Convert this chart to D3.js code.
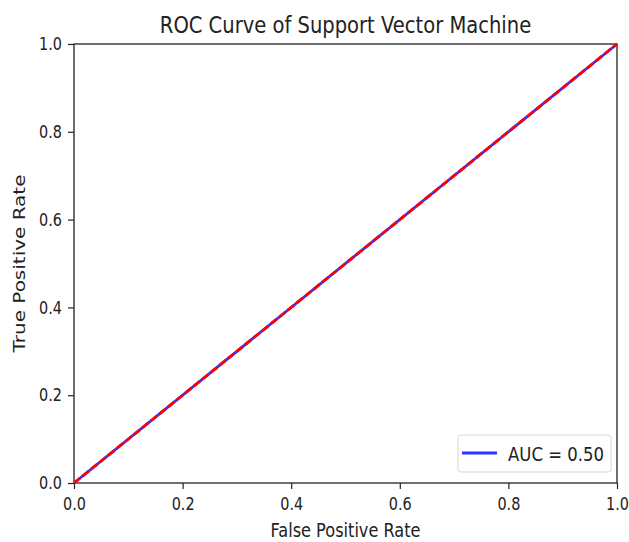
<!DOCTYPE html>
<html>
  <head>
    <script src="https://cdnjs.cloudflare.com/ajax/libs/d3/7.8.5/d3.min.js"></script>
    <style>
      body { margin: 0; background: #fff; }
      text { font-family: "DejaVu Sans", sans-serif; fill: #222; }
      .axis path, .axis line { stroke: #222; stroke-width: 1.2; }
    </style>
  </head>
  <body>
    <svg width="629" height="542"></svg>
    <script>
      // roc data
      var fpr = [0, 1];
      var tpr = [0, 1];
      var chanceX = [0, 1];
      var chanceY = [0, 1];
      var ticks = [0, 0.2, 0.4, 0.6, 0.8, 1.0];
      var aucLabel = "AUC = 0.50";
      var title = "ROC Curve of Support Vector Machine";

      var svg = d3.select("svg");
      var m = { left: 74, right: 617, top: 44, bottom: 483 };

      var x = d3.scaleLinear().domain([0, 1]).range([m.left, m.right]);
      var y = d3.scaleLinear().domain([0, 1]).range([m.bottom, m.top]);

      // text in the picture looks squeezed sideways
      function squeeze(sel, sx) {
        sel.each(function () {
          var t = d3.select(this);
          var xx = +t.attr("x") || 0;
          t.attr("transform", (t.attr("transform") || "") + " translate(" + xx + ",0) scale(" + sx + ",1) translate(" + -xx + ",0)");
        });
      }

      var xAxis = svg.append("g").attr("class", "axis")
        .attr("transform", "translate(0," + m.bottom + ")")
        .call(d3.axisBottom(x).tickValues(ticks).tickFormat(d3.format(".1f")).tickSize(6).tickPadding(5).tickSizeOuter(0));
      xAxis.selectAll("text").attr("font-size", 18).style("font-family", "DejaVu Sans").attr("dy", "0.9em").call(squeeze, 0.8);

      var yAxis = svg.append("g").attr("class", "axis")
        .attr("transform", "translate(" + m.left + ",0)")
        .call(d3.axisLeft(y).tickValues(ticks).tickFormat(d3.format(".1f")).tickSize(6).tickPadding(6).tickSizeOuter(0));
      yAxis.selectAll("text").attr("font-size", 18).style("font-family", "DejaVu Sans").call(squeeze, 0.8);
      yAxis.select(".domain").remove();
      xAxis.select(".domain").remove();

      // frame
      svg.append("rect")
        .attr("x", x(0)).attr("y", y(1))
        .attr("width", x(1) - x(0)).attr("height", y(0) - y(1))
        .attr("fill", "none").attr("stroke", "#222").attr("stroke-width", 1.3);

      var line = d3.line().x(d => x(d[0])).y(d => y(d[1]));

      svg.append("path")
        .attr("d", line(d3.zip(fpr, tpr)))
        .attr("fill", "none").attr("stroke", "#3333ff").attr("stroke-width", 2.8);

      svg.append("path")
        .attr("d", line(d3.zip(chanceX, chanceY)))
        .attr("fill", "none").attr("stroke", "#ff0000").attr("stroke-width", 2.8)
        .attr("stroke-dasharray", "8,3");

      svg.append("text")
        .attr("x", (m.left + m.right) / 2).attr("y", 33)
        .attr("text-anchor", "middle").attr("font-size", 23)
        .text(title).call(squeeze, 0.85);

      svg.append("text")
        .attr("x", (m.left + m.right) / 2).attr("y", 537)
        .attr("text-anchor", "middle").attr("font-size", 19)
        .text("False Positive Rate").call(squeeze, 0.85);

      svg.append("text")
        .attr("transform", "translate(25," + (m.top + m.bottom) / 2 + ") scale(0.82,1) rotate(-90)")
        .attr("text-anchor", "middle").attr("font-size", 20)
        .text("True Positive Rate");

      // legend
      var lg = svg.append("g");
      lg.append("rect")
        .attr("x", 458).attr("y", 435).attr("width", 153).attr("height", 37)
        .attr("rx", 3).attr("fill", "#fff").attr("stroke", "#d6d6d6");
      lg.append("line")
        .attr("x1", 462).attr("x2", 497).attr("y1", 453).attr("y2", 453)
        .attr("stroke", "#3333ff").attr("stroke-width", 3);
      lg.append("text")
        .attr("x", 508).attr("y", 461).attr("font-size", 19)
        .text(aucLabel).call(squeeze, 0.87);
    </script>
  </body>
</html>
